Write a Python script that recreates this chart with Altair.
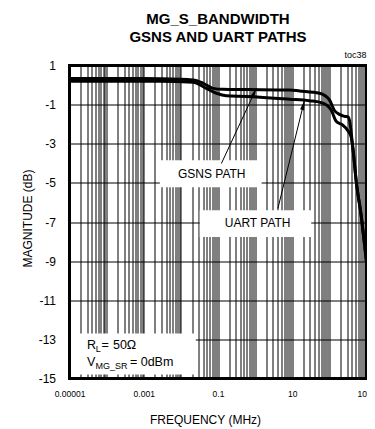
import altair as alt
import pandas as pd

FONT = "Liberation Sans, Arial, sans-serif"
W, H = 297, 313

# ---- curve data (frequency in MHz, magnitude in dB) ----
gsns_freq = [1e-5, 1e-3, 0.0027, 0.0213, 0.040, 0.0735, 0.136, 0.71, 8.45, 15.7,
             54, 100, 137, 187, 255, 313, 347, 426, 535, 729, 879, 1058]
gsns_db = [0.33, 0.33, 0.32, 0.26, 0.09, -0.17, -0.22, -0.23, -0.25, -0.30,
           -0.42, -0.75, -1.30, -1.50, -1.60, -1.62, -1.79, -3.16, -5.0, -6.76, -8.09, -9.47]

uart_freq = [1e-5, 1e-3, 0.0027, 0.0213, 0.0487, 0.0905, 0.168, 0.58, 8.45, 29,
             66.5, 112, 152, 229, 307, 385, 426, 535, 729, 879, 1058]
uart_db = [0.2, 0.2, 0.2, 0.15, -0.17, -0.42, -0.55, -0.58, -0.72, -0.8,
           -0.92, -1.28, -1.85, -2.05, -2.3, -2.65, -3.16, -5.0, -6.76, -8.09, -9.47]

# ---- axes ----
x_label_vals = ["1e-5", "1e-3", "1e-1", "1e1", "1e3"]
x_label_text = ["0.00001", "0.001", "0.1", "10", "1000"]
y_ticks = [1, -1, -3, -5, -7, -9, -11, -13, -15]

# ---- annotations ----
box_x = [0.00271, 0.0322, 1.1e-5]
box_x2 = [1.496, 32.4, 0.0252]
box_y = [-3.84, -6.40, -12.70]
box_y2 = [-5.22, -7.77, -14.80]

label_text = ["GSNS PATH", "UART PATH"]
label_x = [0.0678, 1.167]
label_y = [-4.53, -7.04]

arrow_x0 = [0.1233, 4.10]
arrow_y0 = [-4.01, -6.31]
arrow_x1 = [1.077, 21.4]
arrow_y1 = [-0.17, -0.77]
head_x = [0.946, 19.9]
head_y = [-0.40, -1.02]
head_angle = [25, 14]

cond_x = 2.95e-5
cond_y = [-13.47, -14.34]

grid_vals = [float(f"{m}e{k}") for k in range(-5, 3) for m in range(1, 10)] + [1000.0]
label_expr = " : ".join(
    f"datum.value == {float(v)!r} ? '{t}'" for v, t in zip(x_label_vals, x_label_text)
) + " : ''"

xscale = alt.Scale(type="log", domain=[1e-5, 1000], nice=False)
yscale = alt.Scale(domain=[-15, 1], nice=False, zero=False)

curves = pd.DataFrame({
    "freq": gsns_freq + uart_freq,
    "db": gsns_db + uart_db,
    "path": ["GSNS"] * len(gsns_freq) + ["UART"] * len(uart_freq),
})

base = alt.Chart(curves).mark_line(color="black", strokeWidth=3, clip=True,
                                   interpolate="monotone").encode(
    x=alt.X("freq:Q", scale=xscale, axis=alt.Axis(
        values=grid_vals, tickCount=200, labelExpr=label_expr, labelFontSize=8.5, labelPadding=11,
        labelFlush=False, labelOverlap=False, title="FREQUENCY (MHz)",
        titleFontSize=12, titleX=135.5, titleY=44.5, titleBaseline="alphabetic",
        titleAlign="center")),
    y=alt.Y("db:Q", scale=yscale, axis=alt.Axis(
        values=y_ticks, tickCount=50, labelExpr="'' + datum.value", labelFontSize=12, labelPadding=14,
        labelOverlap=False, labelFlush=False,
        title="MAGNITUDE (dB)", titleFontSize=12, titleX=-38.5, titleY=152.5,
        titleBaseline="alphabetic", titleAngle=270, titleAlign="center")),
    detail="path:N",
)

boxes = alt.Chart(pd.DataFrame({"x": box_x, "x2": box_x2, "y": box_y, "y2": box_y2})).mark_rect(
    fill="white", stroke=None).encode(
    x=alt.X("x:Q", scale=xscale), x2="x2:Q",
    y=alt.Y("y:Q", scale=yscale), y2="y2:Q")

labels = alt.Chart(pd.DataFrame({"t": label_text, "x": label_x, "y": label_y})).mark_text(
    font=FONT, fontSize=12, color="black", baseline="middle", align="center").encode(
    x=alt.X("x:Q", scale=xscale), y=alt.Y("y:Q", scale=yscale), text="t:N")

arrows = alt.Chart(pd.DataFrame({"x": arrow_x0, "y": arrow_y0, "x2": arrow_x1, "y2": arrow_y1})).mark_rule(
    color="black", strokeWidth=1).encode(
    x=alt.X("x:Q", scale=xscale), y=alt.Y("y:Q", scale=yscale), x2="x2:Q", y2="y2:Q")

heads = alt.Chart(pd.DataFrame({"x": head_x, "y": head_y, "a": head_angle})).mark_point(
    shape="M0,-1L-0.42,1L0.42,1Z", filled=True, color="black", opacity=1, size=100).encode(
    x=alt.X("x:Q", scale=xscale), y=alt.Y("y:Q", scale=yscale),
    angle=alt.Angle("a:Q", scale=None))

cond_df = pd.DataFrame({"x": [cond_x], "y1": [cond_y[0]], "y2": [cond_y[1]]})
def ctext(txt, ycol, size, dx, dy=0):
    return alt.Chart(cond_df).mark_text(font=FONT, fontSize=size, color="black", align="left",
                                        baseline="alphabetic", dx=dx, dy=dy, text=txt).encode(
        x=alt.X("x:Q", scale=xscale), y=alt.Y(f"{ycol}:Q", scale=yscale))

cond = (ctext("R", "y1", 12.5, 0) + ctext("L", "y1", 9, 8.8, 3) + ctext("=", "y1", 12.5, 14.5)
        + ctext("50\u03a9", "y1", 12.5, 26)
        + ctext("V", "y2", 12.5, 0) + ctext("MG_SR", "y2", 9, 8.6, 3) + ctext("= 0dBm", "y2", 12.5, 43))

title_df = pd.DataFrame({"t": ["MG_S_BANDWIDTH", "GSNS AND UART PATHS", "toc38"],
                         "px": [W / 2, W / 2, W], "py": [-42, -23.5, -7.5]})
titles = alt.Chart(title_df.iloc[:2]).mark_text(
    font=FONT, fontSize=15, fontWeight="bold", color="black", align="center",
    baseline="alphabetic").encode(x=alt.X("px:Q", scale=None), y=alt.Y("py:Q", scale=None), text="t:N")
toc = alt.Chart(title_df.iloc[2:]).mark_text(
    font=FONT, fontSize=9, color="black", align="right",
    baseline="alphabetic").encode(x=alt.X("px:Q", scale=None), y=alt.Y("py:Q", scale=None), text="t:N")

chart = alt.layer(boxes, base, arrows, heads, labels, cond, titles, toc).properties(
    width=W, height=H,
    autosize=alt.AutoSizeParams(type="none"),
    padding={"left": 61.5, "top": 57.5, "right": 0.5, "bottom": 50},
).configure_view(stroke="black", strokeWidth=3).configure_axis(
    domain=False, ticks=False, grid=True, gridColor="black", gridWidth=1, gridOpacity=1,
    labelFont=FONT, titleFont=FONT, labelColor="black", titleColor="black",
    titleFontWeight="normal")

chart.save("out.html", embed_options={"renderer": "svg", "actions": False})
